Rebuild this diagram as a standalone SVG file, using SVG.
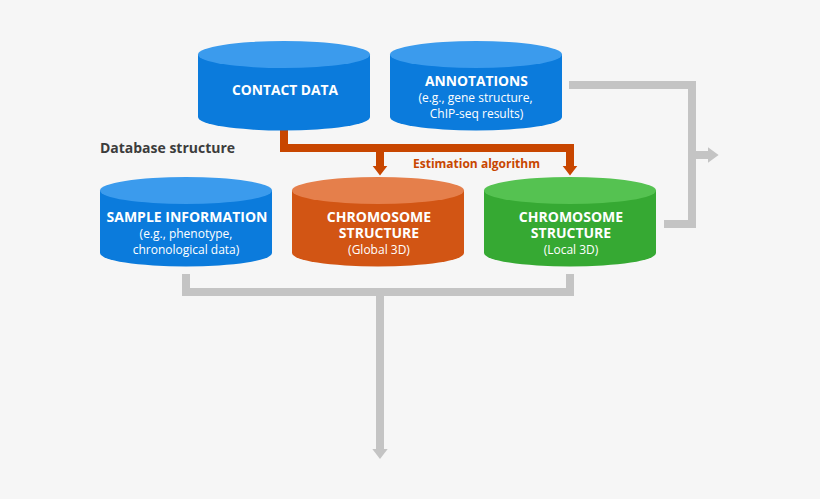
<svg xmlns="http://www.w3.org/2000/svg" width="820" height="499" viewBox="0 0 820 499">
<style>
text{font-family:"Open Sans","Noto Sans","Liberation Sans",sans-serif;text-anchor:middle;fill:#fff}
.t{font-size:14px;font-weight:700}
.s{font-size:12px;font-weight:400}
.blue .b{fill:#0b7bdc}.blue .c{fill:#3b9bed}
.orange .b{fill:#d25514}.orange .c{fill:#e57f4b}
.green .b{fill:#36a933}.green .c{fill:#55c251}
.gray{fill:#c4c4c4}.red{fill:#c84600}
</style>
<rect width="820" height="499" fill="#f6f6f6"/>
<g id="connectors">
<path class="gray" d="M569 81H696V151H708V147.3L718.6 155L708 162.7V159H696V228H664V220H688V89H569Z"/>
<path class="gray" d="M182 274H190V288H566V274H574V296H384V449H387.7L380 459L372.3 449H376V296H182Z"/>
<path class="red" d="M280 130H288V144H574V166H577.3L570 175.6L562.7 166H566V152H384V166H387.3L380 175.6L372.7 166H376V152H280Z"/>
</g>
<g id="contact-data" class="blue" transform="translate(198 41)"><path class="b" d="M0 13.5V76A86 13.5 0 0 0 172 76V13.5Z"/><ellipse class="c" cx="86" cy="13.5" rx="86" ry="13.5"/><text class="t" x="87" y="54" style="font-size:13.8px">CONTACT DATA</text></g>
<g id="annotations" class="blue" transform="translate(390 41)"><path class="b" d="M0 13.5V76A86 13.5 0 0 0 172 76V13.5Z"/><ellipse class="c" cx="86" cy="13.5" rx="86" ry="13.5"/><text x="86.500" y="45"><tspan class="t" x="86.500" style="font-size:13.800px">ANNOTATIONS</tspan><tspan class="s" x="85.500" dy="16">(e.g., gene structure,</tspan><tspan class="s" x="86.500" dy="16">ChIP-seq results)</tspan></text></g>
<g id="sample-information" class="blue" transform="translate(100 177)"><path class="b" d="M0 13.5V76A86 13.5 0 0 0 172 76V13.5Z"/><ellipse class="c" cx="86" cy="13.5" rx="86" ry="13.5"/><text x="87" y="45"><tspan class="t" x="87">SAMPLE INFORMATION</tspan><tspan class="s" x="86" dy="16">(e.g., phenotype,</tspan><tspan class="s" x="86" dy="16">chronological data)</tspan></text></g>
<g id="chromosome-global" class="orange" transform="translate(292 177)"><path class="b" d="M0 13.5V76A86 13.5 0 0 0 172 76V13.5Z"/><ellipse class="c" cx="86" cy="13.5" rx="86" ry="13.5"/><text x="87" y="45"><tspan class="t" x="87">CHROMOSOME</tspan><tspan class="t" x="87" dy="16">STRUCTURE</tspan><tspan class="s" x="87" dy="16">(Global 3D)</tspan></text></g>
<g id="chromosome-local" class="green" transform="translate(484 177)"><path class="b" d="M0 13.5V76A86 13.5 0 0 0 172 76V13.5Z"/><ellipse class="c" cx="86" cy="13.5" rx="86" ry="13.5"/><text x="87" y="45"><tspan class="t" x="87">CHROMOSOME</tspan><tspan class="t" x="87" dy="16">STRUCTURE</tspan><tspan class="s" x="87" dy="16">(Local 3D)</tspan></text></g>
<text x="167.500" y="153" style="font-size:14px;font-weight:700;fill:#3c3c3c">Database structure</text>
<text x="476.500" y="168" style="font-size:12px;font-weight:700;fill:#c84600">Estimation algorithm</text>
</svg>
